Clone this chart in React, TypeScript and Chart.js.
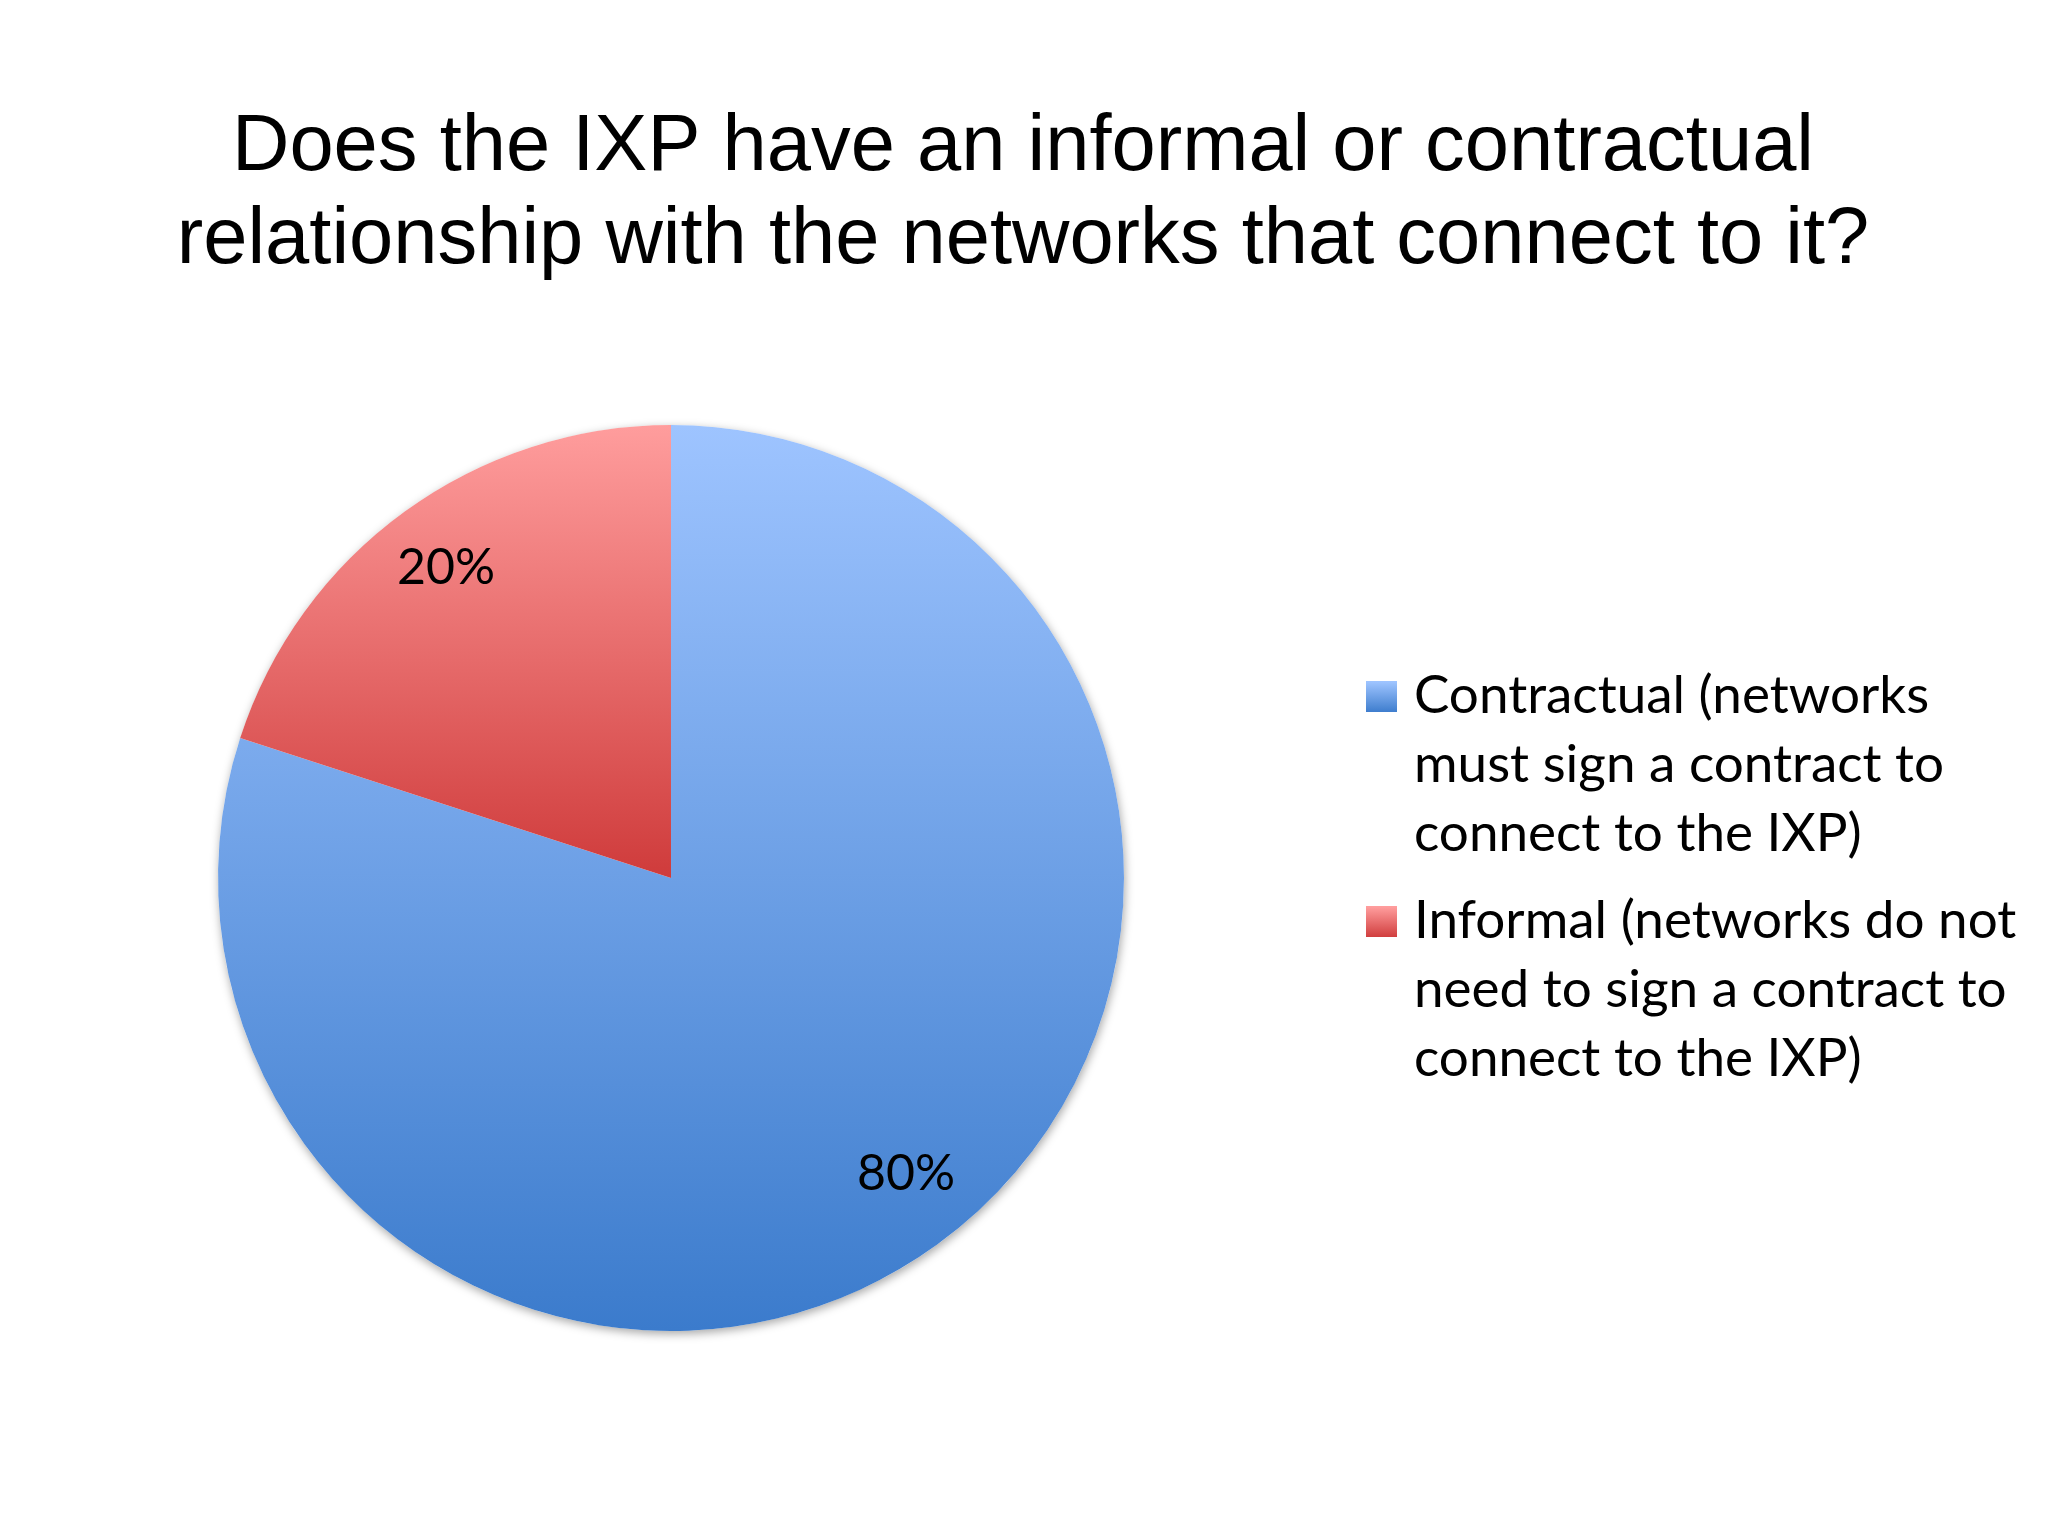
import { useEffect, useRef } from "react";
import { Chart, registerables } from "chart.js";
Chart.register(...registerables);

const TITLE_LINES = [
  "Does the IXP have an informal or contractual",
  "relationship with the networks that connect to it?",
];
const CATEGORIES = [
  "Contractual (networks must sign a contract to connect to the IXP)",
  "Informal (networks do not need to sign a contract to connect to the IXP)",
];
const LEGEND_LINES = [
  ["Contractual (networks", "must sign a contract to", "connect to the IXP)"],
  ["Informal (networks do not", "need to sign a contract to", "connect to the IXP)"],
];
const VALUES = [80, 20];
const VALUE_LABELS = ["80%", "20%"];
const COLOR_TOP = ["#9ec4ff", "#ff9d9d"];
const COLOR_BOTTOM = ["#3b7bcc", "#cf3b3b"];

const LABEL_FONT = "Lato, 'Open Sans', sans-serif";

function sliceVerticalBounds(index: number, cy: number, r: number) {
  const total = VALUES.reduce((a, b) => a + b, 0);
  let before = 0;
  for (let i = 0; i < index; i++) before += VALUES[i];
  const s = -Math.PI / 2 + (2 * Math.PI * before) / total;
  const e = s + (2 * Math.PI * VALUES[index]) / total;
  const ys = [cy, cy + r * Math.sin(s), cy + r * Math.sin(e)];
  const contains = (a: number) => {
    for (let k = -2; k <= 2; k++) {
      const t = a + k * 2 * Math.PI;
      if (t >= s && t <= e) return true;
    }
    return false;
  };
  if (contains(-Math.PI / 2)) ys.push(cy - r);
  if (contains(Math.PI / 2)) ys.push(cy + r);
  return [Math.min(...ys), Math.max(...ys)];
}

const decor = {
  id: "decor",
  beforeDatasetsDraw(chart: any) {
    const meta = chart.getDatasetMeta(0);
    const el = meta.data[0];
    if (!el) return;
    const { x, y, outerRadius } = el.getProps(["x", "y", "outerRadius"], true);
    const ctx = chart.ctx;
    ctx.save();
    ctx.beginPath();
    ctx.arc(x, y, outerRadius, 0, Math.PI * 2);
    ctx.fillStyle = "#ffffff";
    ctx.shadowColor = "rgba(0,0,0,0.35)";
    ctx.shadowBlur = 10;
    ctx.shadowOffsetX = 1;
    ctx.shadowOffsetY = 3;
    ctx.fill();
    ctx.restore();
  },
  afterDatasetsDraw(chart: any) {
    const meta = chart.getDatasetMeta(0);
    const ctx = chart.ctx;
    ctx.save();
    ctx.fillStyle = "#000000";
    ctx.font = `50px ${LABEL_FONT}`;
    ctx.textAlign = "center";
    ctx.textBaseline = "middle";
    meta.data.forEach((el: any, i: number) => {
      const p = el.getProps(["x", "y", "startAngle", "endAngle", "outerRadius"], true);
      const mid = (p.startAngle + p.endAngle) / 2;
      const rr = p.outerRadius * 0.845;
      ctx.fillText(VALUE_LABELS[i], p.x + Math.cos(mid) * rr + (i === 0 ? 10 : 0), p.y + Math.sin(mid) * rr - (i === 0 ? 14 : 0));
    });
    ctx.restore();
  },
  afterDraw(chart: any) {
    const ctx = chart.ctx;
    ctx.save();
    // Title
    ctx.fillStyle = "#000000";
    ctx.font = "79.5px 'Liberation Sans', Arial, sans-serif";
    ctx.textAlign = "center";
    ctx.textBaseline = "alphabetic";
    ctx.fillText(TITLE_LINES[0], 1023, 170);
    ctx.fillText(TITLE_LINES[1], 1023, 263);
    // Legend
    const itemTop = [713, 938];
    LEGEND_LINES.forEach((lines, i) => {
      const base = itemTop[i];
      const sq = 31;
      const g = ctx.createLinearGradient(0, base - sq, 0, base);
      g.addColorStop(0, COLOR_TOP[i]);
      g.addColorStop(1, COLOR_BOTTOM[i]);
      ctx.fillStyle = g;
      ctx.fillRect(1366, base - 32, sq, sq);
      ctx.fillStyle = "#000000";
      ctx.font = `53px ${LABEL_FONT}`;
      ctx.textAlign = "left";
      lines.forEach((ln, j) => {
        ctx.fillText(ln, 1414, base + j * 69);
      });
    });
    ctx.restore();
  },
};

export default function App() {
  const ref = useRef<HTMLCanvasElement>(null);
  useEffect(() => {
    document.body.style.margin = "0";
    const canvas = ref.current;
    if (!canvas) return;
    const chart = new Chart(canvas, {
      type: "pie",
      data: {
        labels: CATEGORIES,
        datasets: [
          {
            data: VALUES,
            borderWidth: 0,
            backgroundColor: (c: any) => {
              const area = c.chart.chartArea;
              const i = c.dataIndex ?? 0;
              if (!area) return COLOR_TOP[i];
              const cy = (area.top + area.bottom) / 2;
              const r = Math.min(area.right - area.left, area.bottom - area.top) / 2;
              const [y0, y1] = sliceVerticalBounds(i, cy, r);
              const g = c.chart.ctx.createLinearGradient(0, y0, 0, y1);
              g.addColorStop(0, COLOR_TOP[i]);
              g.addColorStop(1, COLOR_BOTTOM[i]);
              return g;
            },
          },
        ],
      },
      options: {
        animation: false,
        responsive: true,
        maintainAspectRatio: false,
        devicePixelRatio: 1,
        layout: { padding: { left: 218, right: 924, top: 425, bottom: 205 } },
        plugins: {
          legend: { display: false },
          title: { display: false },
          tooltip: { enabled: false },
        },
      },
      plugins: [decor],
    });
    return () => chart.destroy();
  }, []);
  return (
    <div style={{ width: 2048, height: 1536, position: "relative", background: "#ffffff" }}>
      <canvas ref={ref} />
    </div>
  );
}
